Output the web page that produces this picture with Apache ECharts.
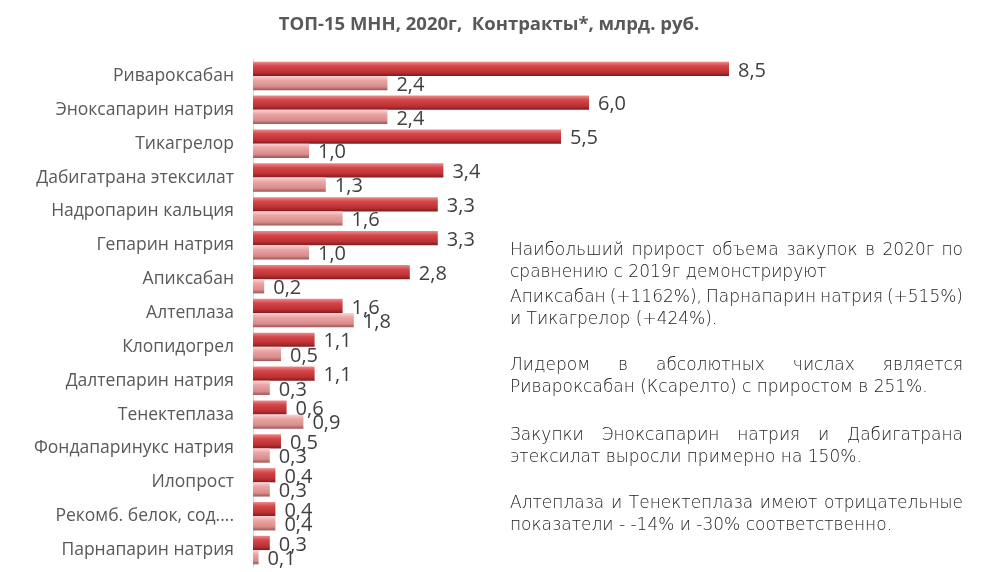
<!DOCTYPE html>
<html>
<head>
<meta charset="utf-8">
<script src="https://cdn.jsdelivr.net/npm/echarts@6/dist/echarts.min.js"></script>
<style>
  html, body { margin: 0; padding: 0; background: #fff; }
  #chart { width: 983px; height: 572px; }
</style>
</head>
<body>
<div id="chart"></div>
<script>
// ТОП-15 МНН, контракты 2020 vs 2019
var categories = ['Ривароксабан', 'Эноксапарин натрия', 'Тикагрелор', 'Дабигатрана этексилат', 'Надропарин кальция',
  'Гепарин натрия', 'Апиксабан', 'Алтеплаза', 'Клопидогрел', 'Далтепарин натрия', 'Тенектеплаза',
  'Фондапаринукс натрия', 'Илопрост', 'Рекомб. белок, сод....', 'Парнапарин натрия'];
var values2020 = [8.5, 6.0, 5.5, 3.4, 3.3, 3.3, 2.8, 1.6, 1.1, 1.1, 0.6, 0.5, 0.4, 0.4, 0.3];
var values2019 = [2.4, 2.4, 1.0, 1.3, 1.6, 1.0, 0.2, 1.8, 0.5, 0.3, 0.9, 0.3, 0.3, 0.4, 0.1];

var noteLines = [
  { t: 'Наибольший прирост объема закупок в 2020г по', y: 251, j: true },
  { t: 'сравнению с 2019г демонстрируют', y: 273 },
  { t: 'Апиксабан (+1162%), Парнапарин натрия (+515%)', y: 298, j: true },
  { t: 'и Тикагрелор (+424%).', y: 320 },
  { t: 'Лидером в абсолютных числах является', y: 366, j: true },
  { t: 'Ривароксабан (Ксарелто) с приростом в 251%.', y: 388 },
  { t: 'Закупки Эноксапарин натрия и Дабигатрана', y: 436, j: true },
  { t: 'этексилат выросли примерно на 150%.', y: 458 },
  { t: 'Алтеплаза и Тенектеплаза имеют отрицательные', y: 504, j: true },
  { t: 'показатели - -14% и -30% соответственно.', y: 526 }
];

(function () {
  var chart = echarts.init(document.getElementById('chart'), null, { renderer: 'canvas' });
  var noteFamily = '"DejaVu Sans", sans-serif';
  var noteWeight = 200;
  var noteSize = 17;
  var x0 = 510, x1 = 963;

  var ctx = document.createElement('canvas').getContext('2d');
  ctx.font = noteWeight + ' ' + noteSize + 'px ' + noteFamily;

  function fmt(v) { return v.toFixed(1).replace('.', ','); }

  function grad(c1, c2, c3, c4) {
    return new echarts.graphic.LinearGradient(0, 0, 0, 1, [
      { offset: 0, color: c1 }, { offset: 0.3, color: c2 },
      { offset: 0.75, color: c3 }, { offset: 1, color: c4 }
    ]);
  }

  // текст справа, выровненные строки раскладываем по словам
  var graphics = [];
  function addText(text, x, y) {
    graphics.push({
      type: 'text',
      style: {
        text: text, x: x, y: y, fill: '#222222', verticalAlign: 'middle',
        fontSize: noteSize, fontFamily: noteFamily, fontWeight: noteWeight
      }
    });
  }
  noteLines.forEach(function (ln) {
    if (!ln.j) { addText(ln.t, x0, ln.y); return; }
    var words = ln.t.split(' ');
    var widths = words.map(function (w) { return ctx.measureText(w).width; });
    var total = widths.reduce(function (a, b) { return a + b; }, 0);
    var gap = (x1 - x0 - total) / (words.length - 1);
    var x = x0;
    words.forEach(function (w, i) {
      addText(w, x, ln.y);
      x += widths[i] + gap;
    });
  });

  var labelStyle = { show: true, position: 'right', distance: 9, offset: [0, 2], color: '#404040', fontSize: 20, fontFamily: '"Open Sans", sans-serif', formatter: function (p) { return fmt(p.value); } };

  chart.setOption({
    animation: false,
    title: {
      text: 'ТОП-15 МНН, 2020г,  Контракты*, млрд. руб.',
      left: 484, top: 10, textAlign: 'center',
      textStyle: { color: '#595959', fontSize: 18.5, fontWeight: 'bold', fontFamily: '"Open Sans", sans-serif' }
    },
    grid: { left: 253, top: 59, width: 560, height: 508 },
    xAxis: { type: 'value', min: 0, max: 10, show: false },
    yAxis: {
      type: 'category', data: categories, inverse: true,
      axisLine: { lineStyle: { color: '#d9d9d9', width: 1 } },
      axisTick: { show: false },
      axisLabel: { color: '#595959', fontSize: 17.5, margin: 19, fontFamily: '"Open Sans", sans-serif' }
    },
    series: [
      {
        name: '2020', type: 'bar', data: values2020, barGap: '0%', barCategoryGap: '16%',
        itemStyle: { color: grad('#ee8c8c', '#d4474a', '#bb3033', '#7e1c1e') },
        label: labelStyle
      },
      {
        name: '2019', type: 'bar', data: values2019,
        itemStyle: { color: grad('#fcd4d4', '#eaa5a5', '#d98b8b', '#9b5556') },
        label: labelStyle
      }
    ],
    graphic: graphics
  });
})();
</script>
</body>
</html>
